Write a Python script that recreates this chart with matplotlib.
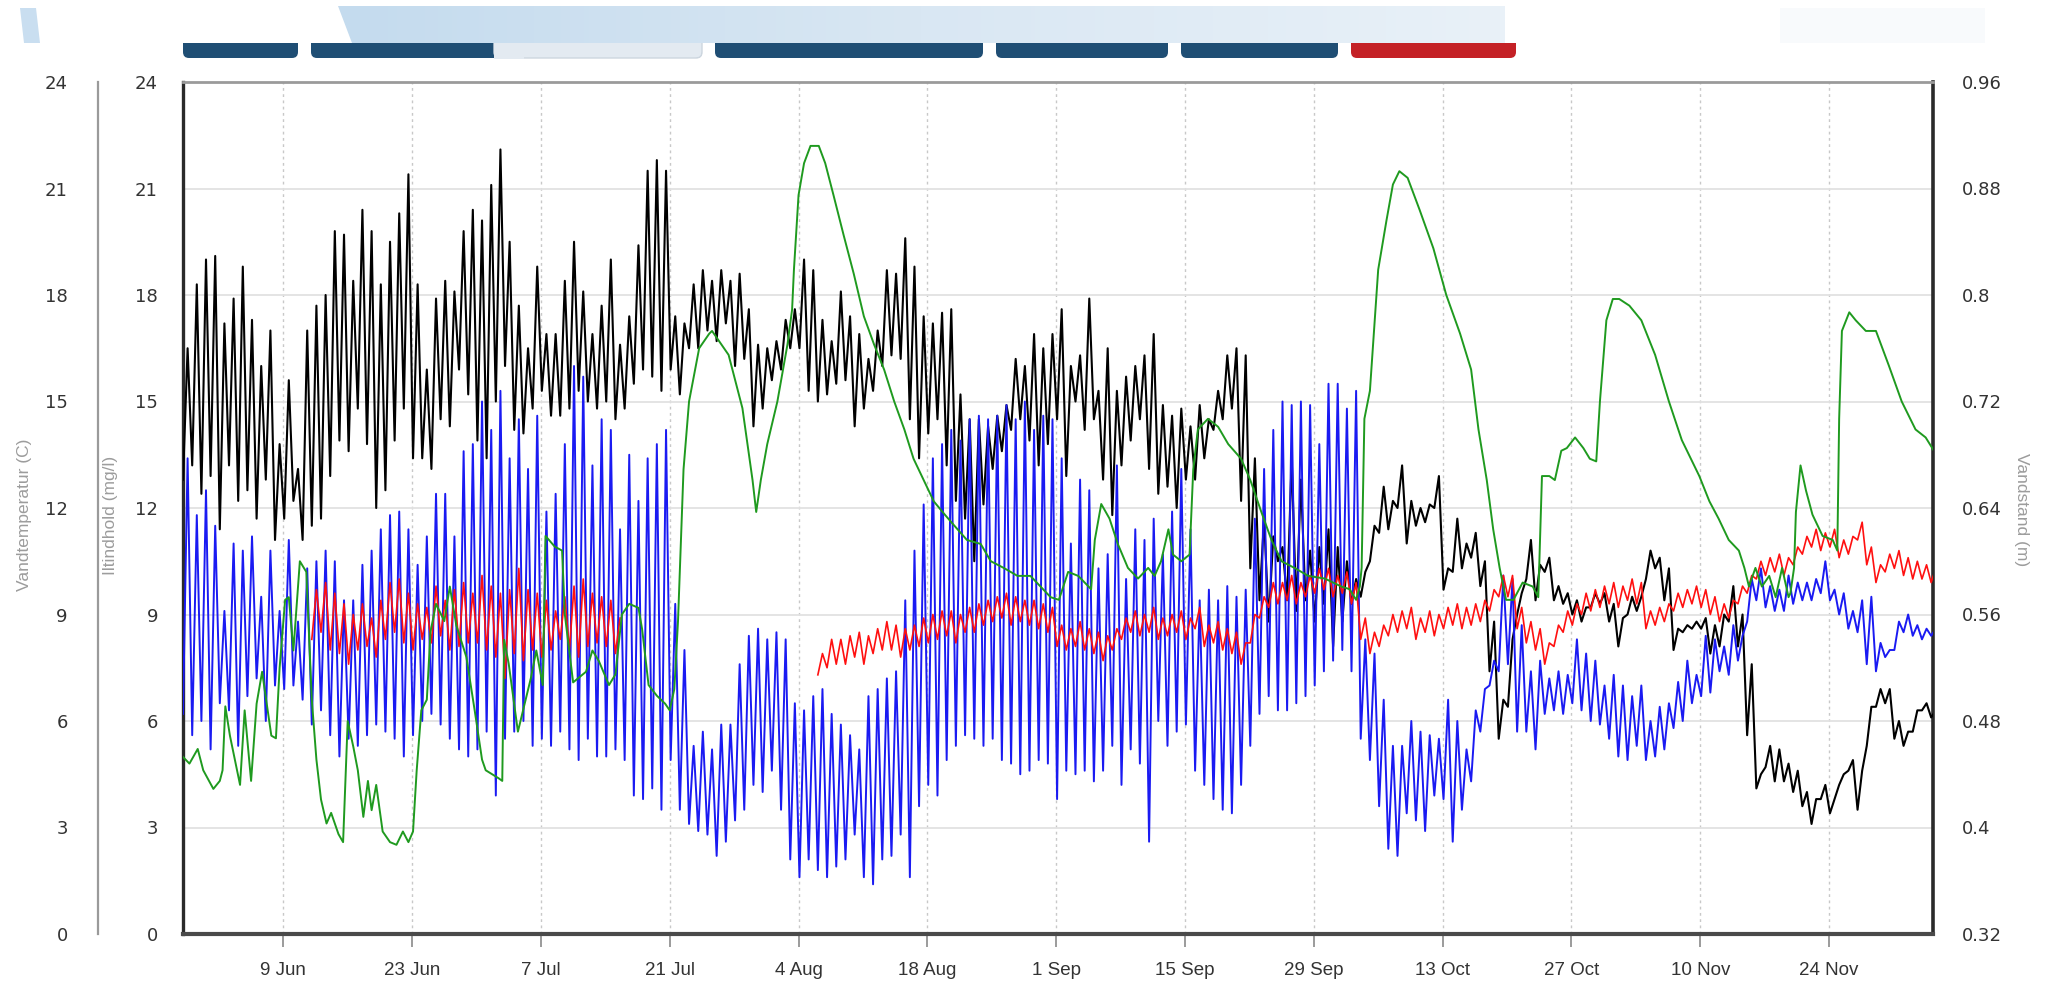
import datetime as dt
import numpy as np
import matplotlib
matplotlib.use("Agg")
import matplotlib.pyplot as plt
import matplotlib.dates as mdates
from matplotlib.patches import Polygon, FancyBboxPatch, Rectangle
from matplotlib.colors import LinearSegmentedColormap

# ---------------- data ----------------
START = dt.datetime(2015, 5, 29)   # day 0 of the daily lists

# Vandtemperatur (C): daily low / high
temp_high = ([16.5, 18.3, 19.0, 19.1, 17.2, 17.9, 18.8, 17.3, 16.0, 17.0,
              13.8, 15.6, 13.1, 17.0, 17.7, 18.0, 19.8, 19.7, 18.4, 20.4,
              19.8, 18.3, 19.5, 20.3, 21.4, 18.3, 15.9, 17.9, 18.4, 18.1,
              19.8, 20.4]
             + [20.1, 21.1, 22.1, 19.5, 17.7, 16.5, 18.8, 16.9, 16.9, 18.4,
                19.5, 18.1, 16.9, 17.7, 19.0, 16.6, 17.4, 19.4, 21.5, 21.8,
                21.5, 17.4, 17.2, 18.3, 18.7, 18.4, 18.7, 18.4, 18.6, 17.6,
                16.6, 16.5]
             + [16.7, 17.3, 17.6, 19.0, 18.7, 17.3, 16.7, 18.1, 17.4, 16.9,
                16.2, 17.0, 18.7, 18.6, 19.6, 18.8, 17.4, 17.2, 17.5, 17.6,
                15.2, 14.5, 14.5, 14.3, 14.6, 14.9, 16.2, 16.0, 16.9, 16.5,
                16.9]
             + [17.6, 16.0, 16.3, 17.9, 15.3, 16.5, 15.3, 15.7, 16.0, 16.3,
                16.9, 14.9, 14.6, 14.8, 14.3, 14.9, 14.5, 15.3, 16.3, 16.5,
                16.3, 13.4, 11.7, 11.2, 10.9, 13.4, 12.8, 10.8, 10.9, 11.4,
                10.9, 10.5]
             + [10.0, 10.2, 11.5, 12.6, 12.2, 13.2, 12.2, 12.0, 12.1, 12.9,
                10.3, 11.7, 11.0, 11.3, 10.5, 8.8, 6.6, 8.3, 9.6, 11.1,
                10.4, 10.6, 9.8, 9.6, 9.4, 9.2, 9.6, 9.6, 9.3, 8.9,
                9.5, 9.5]
             + [10.8, 10.6, 10.3, 8.6, 8.7, 8.8, 8.9, 8.7, 9.0, 9.8,
                9.0, 7.6, 4.5, 5.3, 5.2, 4.8, 4.6, 4.0, 3.8, 4.2,
                3.8, 4.5, 4.9, 4.6, 6.4, 6.9, 6.9, 6.0, 5.7, 6.3,
                6.5, 6.3])
temp_low = ([12.8, 13.2, 12.4, 12.9, 11.4, 13.2, 12.2, 12.5, 11.7, 12.8,
             11.1, 11.7, 12.2, 11.1, 11.5, 11.7, 12.9, 13.9, 13.6, 14.8,
             13.8, 12.0, 12.5, 13.9, 14.8, 13.4, 13.4, 13.1, 14.5, 14.3,
             15.9, 15.2]
            + [13.9, 13.4, 15.0, 16.0, 14.2, 14.1, 14.8, 15.3, 14.6, 14.6,
               14.8, 15.3, 15.0, 14.8, 15.0, 14.5, 14.8, 15.5, 15.9, 15.7,
               15.3, 15.9, 15.2, 16.5, 16.5, 17.0, 16.7, 17.2, 16.0, 16.2,
               14.3, 14.8]
            + [15.6, 15.9, 16.5, 16.5, 15.3, 15.0, 15.2, 15.5, 15.6, 14.3,
               14.8, 15.3, 16.0, 16.3, 16.2, 14.5, 13.4, 14.1, 14.5, 13.2,
               12.2, 11.7, 10.5, 12.1, 13.1, 13.6, 14.2, 14.5, 13.9, 13.2,
               13.8]
            + [14.5, 12.9, 15.0, 14.2, 14.5, 12.8, 11.8, 13.2, 13.9, 14.5,
               13.1, 12.4, 12.6, 12.0, 12.8, 12.8, 13.4, 14.2, 14.5, 14.8,
               12.2, 10.3, 9.4, 8.8, 10.5, 9.4, 9.1, 9.4, 8.8, 9.3,
               8.1, 8.8]
            + [9.3, 9.5, 10.5, 11.3, 11.4, 12.0, 11.0, 11.5, 11.6, 12.0,
               9.7, 10.2, 10.3, 10.6, 9.8, 7.4, 5.5, 6.4, 9.0, 10.0,
               9.4, 10.2, 9.4, 9.3, 9.0, 8.8, 9.2, 9.3, 8.8, 8.1,
               9.0, 9.1]
            + [10.0, 10.3, 9.4, 8.0, 8.5, 8.6, 8.6, 7.9, 8.1, 8.8,
               8.1, 5.6, 4.1, 4.7, 4.3, 4.3, 4.0, 3.6, 3.1, 3.8,
               3.4, 4.2, 4.6, 3.5, 5.3, 6.4, 6.5, 5.5, 5.3, 5.7,
               6.3, 6.1])

# Iltindhold (mg/l): daily low / high
oxy_high = ([13.4, 11.8, 12.5, 11.5, 9.1, 11.0, 10.8, 11.2, 9.5, 10.8,
             9.1, 11.1, 8.8, 10.3, 10.5, 10.8, 10.5, 9.4, 9.4, 10.4,
             10.8, 11.4, 11.8, 11.9, 11.4, 10.4, 11.2, 12.4, 12.4, 11.2,
             13.6, 13.8]
            + [15.0, 14.2, 15.3, 13.4, 14.5, 13.1, 14.6, 11.9, 12.4, 13.8,
               16.0, 15.7, 13.2, 14.5, 14.2, 11.4, 13.5, 12.2, 13.4, 13.8,
               14.2, 9.3, 8.0, 5.3, 5.7, 5.2, 5.9, 5.9, 7.6, 8.4,
               8.6, 8.3]
            + [8.5, 8.3, 6.5, 6.3, 6.7, 6.9, 6.2, 5.9, 5.6, 5.2,
               6.7, 6.9, 7.2, 7.4, 9.4, 10.8, 12.1, 13.4, 13.8, 14.2,
               13.9, 14.5, 14.6, 14.5, 14.6, 14.9, 14.5, 15.0, 14.2, 14.6,
               14.5]
            + [13.4, 11.0, 12.8, 12.5, 10.3, 10.7, 13.2, 10.0, 11.4, 11.1,
               11.7, 10.7, 11.9, 13.1, 11.4, 9.4, 9.7, 9.4, 9.8, 9.5,
               9.7, 11.7, 13.1, 14.2, 15.0, 14.9, 15.0, 14.9, 13.8, 15.5,
               15.5, 14.8]
            + [15.3, 8.3, 7.9, 6.6, 5.3, 5.3, 6.0, 5.7, 5.6, 5.5,
               6.6, 6.0, 5.2, 6.3, 6.9, 7.7, 10.1, 10.0, 8.7, 7.4,
               7.7, 7.2, 7.4, 7.3, 8.3, 7.9, 7.7, 7.0, 7.3, 7.0,
               6.7, 7.0]
            + [6.0, 6.4, 6.5, 7.1, 7.7, 7.3, 8.4, 8.3, 8.1, 8.7,
               8.4, 10.0, 10.3, 9.8, 9.7, 10.1, 9.9, 9.9, 10.0, 10.5,
               9.7, 9.6, 9.1, 9.4, 9.5, 8.2, 8.0, 8.8, 9.0, 8.7,
               8.6, 8.6])
oxy_low = ([6.2, 5.6, 6.0, 5.2, 6.5, 6.3, 5.3, 6.7, 7.2, 6.0,
            7.0, 6.9, 7.0, 6.6, 5.9, 6.3, 5.6, 5.0, 5.5, 5.3,
            5.6, 5.9, 5.7, 5.5, 5.0, 5.6, 6.0, 6.2, 5.9, 5.5,
            5.2, 5.0]
           + [5.2, 5.7, 3.9, 5.5, 5.7, 6.0, 5.3, 5.5, 5.3, 5.7,
              5.2, 4.9, 5.5, 5.0, 5.0, 5.2, 4.9, 3.9, 3.8, 4.1,
              3.5, 4.9, 3.5, 3.1, 2.9, 2.8, 2.2, 2.6, 3.2, 3.5,
              4.2, 4.0]
           + [4.6, 3.5, 2.1, 1.6, 2.1, 1.8, 1.6, 1.9, 2.1, 2.8,
              1.6, 1.4, 2.1, 2.2, 2.8, 1.6, 3.6, 4.2, 3.9, 4.9,
              5.3, 5.6, 5.5, 5.3, 5.5, 4.9, 4.8, 4.5, 4.6, 4.9,
              4.8]
           + [3.8, 4.6, 4.5, 4.6, 4.3, 4.6, 5.3, 4.2, 5.2, 4.8,
              2.6, 6.0, 5.3, 5.7, 5.9, 4.6, 4.2, 3.8, 3.5, 3.4,
              4.2, 5.3, 6.2, 6.7, 6.3, 6.3, 6.5, 6.7, 7.0, 7.4,
              7.7, 8.0]
           + [7.4, 5.5, 4.9, 3.6, 2.4, 2.2, 3.4, 3.2, 2.9, 3.9,
              3.8, 2.6, 3.5, 4.3, 5.7, 7.0, 7.4, 7.6, 5.7, 5.7,
              5.2, 6.2, 6.3, 6.2, 6.5, 6.3, 6.0, 5.9, 5.5, 5.0,
              4.9, 5.3]
           + [4.9, 5.0, 5.2, 5.8, 6.0, 6.5, 6.7, 6.8, 7.4, 7.3,
              7.7, 8.8, 9.4, 9.2, 9.1, 9.1, 9.3, 9.4, 9.4, 9.6,
              9.4, 9.0, 8.6, 8.5, 7.6, 7.4, 7.8, 8.0, 8.5, 8.4,
              8.3, 8.4])

# red series (left axis): daily low / high, None = no data
red_high = ([None] * 14
            + [9.7, 9.9, 9.6, 9.3, 9.0, 9.3, 8.9, 9.4, 9.9, 10.0,
               9.6, 9.3, 9.2, 9.8, 9.4, 9.7, 9.9, 9.6]
            + [10.1, 9.8, 9.6, 9.7, 10.3, 9.7, 9.6, 9.4, 9.1, 9.5,
               9.8, 10.0, 9.6, 9.5, 9.4, 8.9]
            + [None] * 21
            + [7.9, 8.3, 8.3, 8.4, 8.5, 8.4, 8.6, 8.8, 8.7, 8.6,
               8.7, 8.9, 9.0, 9.1, 9.1, 9.0, 9.2, 9.3, 9.4, 9.5,
               9.6, 9.5, 9.4, 9.4, 9.3, 9.2]
            + [8.7, 8.6, 8.8, 8.6, 8.5, 8.4, 8.6, 8.9, 9.1, 9.0,
               9.2, 8.9, 9.0, 9.1, 8.9, 9.2, 8.7, 8.8, 8.6, 8.5,
               8.2, 9.0, 9.5, 9.9, 9.9, 10.1, 9.9, 10.1, 10.3, 10.3,
               10.1, 10.2]
            + [9.9, 8.9, 8.5, 8.7, 9.0, 9.1, 9.2, 8.9, 9.1, 9.0,
               9.2, 9.3, 9.2, 9.3, 9.4, 9.7, 10.1, 10.1, 9.2, 8.8,
               8.6, 8.2, 8.7, 9.1, 9.3, 9.6, 9.7, 9.8, 9.9, 9.8,
               10.0, 9.9]
            + [9.1, 9.2, 9.3, 9.6, 9.7, 9.8, 9.7, 9.5, 9.3, 9.4,
               9.8, 10.1, 10.5, 10.6, 10.7, 10.6, 10.9, 11.2, 11.4, 11.3,
               11.4, 11.1, 11.2, 11.6, 10.9, 10.4, 10.7, 10.8, 10.6, 10.5,
               10.4, 10.3])
red_low = ([None] * 14
           + [8.3, 8.5, 8.0, 7.9, 7.6, 8.0, 8.1, 7.8, 8.3, 8.5,
              8.2, 8.0, 8.3, 8.2, 8.4, 8.0, 8.1, 8.2]
           + [8.2, 8.0, 7.8, 7.2, 7.9, 7.7, 8.0, 7.8, 8.0, 8.3,
              8.0, 7.8, 8.1, 8.2, 8.1, 7.9]
           + [None] * 21
           + [7.3, 7.5, 7.6, 7.6, 7.8, 7.6, 7.9, 8.0, 8.0, 7.8,
              8.0, 8.1, 8.2, 8.3, 8.4, 8.2, 8.5, 8.5, 8.7, 8.8,
              8.9, 8.7, 8.8, 8.7, 8.6, 8.5]
           + [8.1, 8.0, 8.1, 8.0, 7.9, 7.7, 8.0, 8.3, 8.5, 8.4,
              8.5, 8.3, 8.4, 8.5, 8.3, 8.6, 8.1, 8.2, 8.0, 7.9,
              7.6, 8.2, 8.9, 9.2, 9.3, 9.4, 9.3, 9.5, 9.6, 9.7,
              9.5, 9.6]
           + [9.3, 8.3, 7.9, 8.1, 8.4, 8.5, 8.6, 8.3, 8.5, 8.4,
              8.6, 8.7, 8.6, 8.7, 8.8, 9.1, 9.5, 9.5, 8.6, 8.2,
              8.0, 7.6, 8.1, 8.5, 8.7, 9.0, 9.1, 9.2, 9.3, 9.2,
              9.4, 9.3]
           + [8.6, 8.7, 8.8, 9.1, 9.2, 9.3, 9.2, 9.0, 8.8, 8.9,
              9.3, 9.6, 10.0, 10.1, 10.2, 10.1, 10.4, 10.7, 10.9, 10.8,
              10.9, 10.6, 10.7, 11.1, 10.4, 9.9, 10.2, 10.3, 10.1, 10.0,
              10.0, 9.9])

# Vandstand (m): (days after START, level)
green_day = [0.1, 0.8, 1.7, 2.3, 3.4, 4.1, 4.4, 4.7, 5.2, 6.3, 6.8, 7.5, 8.1, 8.7,
             9.7, 10.2, 10.6, 11.2, 11.6, 12.1, 12.8, 13.5, 14.1, 14.6, 15.1,
             15.7, 16.2, 17.0, 17.5, 18.0, 18.6, 19.1, 19.7, 20.2, 20.6, 21.1,
             21.8, 22.6, 23.3, 24.0, 24.6, 25.1, 25.5, 26.0, 26.6, 27.0, 27.6,
             28.5, 29.1, 29.8, 30.9, 31.8,
             32.6, 33.0, 34.4, 34.8, 35.0, 35.5, 36.5, 37.9, 38.5, 39.2, 39.5,
             40.5, 41.3, 41.6, 42.5, 43.9, 44.6, 45.3, 46.4, 47.1, 47.8, 48.6,
             49.6, 50.0, 50.7, 51.6, 52.5, 53.0, 53.5, 53.9, 54.5, 55.1, 56.2,
             57.3, 57.6, 59.4, 60.9, 62.0, 62.4, 62.9, 63.6,
             64.7, 65.8, 66.3, 66.5, 67.0, 67.6, 68.3, 69.2, 69.9, 70.8, 71.9,
             73.0, 74.1, 75.2, 76.3, 77.4, 78.5, 79.5, 80.6, 81.7, 82.9, 83.9,
             85.3, 86.8, 87.9, 89.3, 90.8, 92.2, 93.3, 94.4, 95.3,
             96.3, 97.4, 98.8, 99.2, 99.9, 100.8, 101.7, 102.8, 103.9, 105.0,
             105.7, 106.4, 107.2, 107.7, 108.6, 109.5, 109.9, 110.4, 111.5,
             112.6, 113.7, 115.1, 116.1, 117.3, 118.4, 119.5, 120.9, 122.4,
             124.2, 126.0, 126.9,
             127.6, 128.0, 128.2, 128.5, 129.1, 130.0, 130.9, 131.6, 132.3,
             133.2, 134.5, 136.0, 137.4, 138.9, 140.1, 140.9, 141.8, 142.5,
             143.2, 143.9, 144.7, 145.7, 146.8, 147.4, 147.8, 148.6, 149.2,
             149.9, 150.5, 151.4, 152.3, 153.0, 153.7, 154.1, 154.8, 155.5,
             156.2, 157.3, 158.6,
             160.1, 161.6, 163.0, 164.9, 166.0, 167.0, 168.1, 169.2, 169.8,
             170.3, 171.0, 171.7, 172.5, 173.2, 173.9, 174.6, 174.8, 175.2,
             175.4, 175.9, 176.5, 177.2, 178.3, 179.4, 179.9, 180.1, 180.4,
             181.2, 181.9, 183.0, 184.1, 185.5, 186.9, 188.4, 189.5, 190.4]
green_level = [0.453, 0.448, 0.459, 0.443, 0.429, 0.435, 0.443, 0.491, 0.469, 0.432,
               0.488, 0.435, 0.493, 0.517, 0.469, 0.467, 0.520, 0.571, 0.573, 0.533,
               0.600, 0.592, 0.496, 0.451, 0.421, 0.403, 0.411, 0.395, 0.389, 0.480,
               0.461, 0.443, 0.408, 0.435, 0.413, 0.432, 0.397, 0.389, 0.387, 0.397,
               0.389, 0.397, 0.443, 0.488, 0.496, 0.547, 0.568, 0.555, 0.581, 0.552,
               0.528, 0.488,
               0.451, 0.443, 0.437, 0.435, 0.541, 0.523, 0.472, 0.512, 0.533, 0.507,
               0.619, 0.611, 0.608, 0.560, 0.509, 0.517, 0.533, 0.525, 0.507, 0.515,
               0.560, 0.568, 0.565, 0.549, 0.507, 0.499, 0.493, 0.488, 0.504, 0.555,
               0.669, 0.720, 0.760, 0.771, 0.773, 0.755, 0.715, 0.661, 0.637, 0.661,
               0.688,
               0.720, 0.763, 0.789, 0.819, 0.875, 0.899, 0.912, 0.912, 0.899, 0.875,
               0.845, 0.816, 0.784, 0.763, 0.744, 0.720, 0.699, 0.677, 0.661, 0.645,
               0.635, 0.627, 0.616, 0.613, 0.600, 0.595, 0.589, 0.589, 0.581, 0.573,
               0.571,
               0.592, 0.589, 0.579, 0.616, 0.643, 0.632, 0.613, 0.595, 0.587, 0.595,
               0.589, 0.600, 0.624, 0.605, 0.600, 0.605, 0.669, 0.699, 0.707, 0.701,
               0.688, 0.677, 0.661, 0.637, 0.616, 0.600, 0.595, 0.589, 0.587, 0.581,
               0.579,
               0.571, 0.581, 0.595, 0.707, 0.728, 0.819, 0.856, 0.883, 0.893, 0.888,
               0.864, 0.835, 0.800, 0.771, 0.744, 0.699, 0.661, 0.624, 0.595, 0.571,
               0.571, 0.584, 0.581, 0.573, 0.664, 0.664, 0.661, 0.683, 0.685, 0.693,
               0.685, 0.677, 0.675, 0.720, 0.781, 0.797, 0.797, 0.792, 0.781,
               0.755, 0.720, 0.691, 0.664, 0.645, 0.632, 0.616, 0.608, 0.595, 0.581,
               0.595, 0.581, 0.589, 0.573, 0.595, 0.573, 0.576, 0.595, 0.637, 0.672,
               0.653, 0.635, 0.619, 0.616, 0.608, 0.707, 0.773, 0.787, 0.781, 0.773,
               0.773, 0.747, 0.720, 0.699, 0.693, 0.683]

tick_dates = ["2015-06-09", "2015-06-23", "2015-07-07", "2015-07-21", "2015-08-04",
              "2015-08-18", "2015-09-01", "2015-09-15", "2015-09-29", "2015-10-13",
              "2015-10-27", "2015-11-10", "2015-11-24"]
tick_labels = ["9 Jun", "23 Jun", "7 Jul", "21 Jul", "4 Aug", "18 Aug", "1 Sep",
               "15 Sep", "29 Sep", "13 Oct", "27 Oct", "10 Nov", "24 Nov"]
left_ticks = [0, 3, 6, 9, 12, 15, 18, 21, 24]
right_ticks = [0.32, 0.40, 0.48, 0.56, 0.64, 0.72, 0.80, 0.88, 0.96]
right_labels = ["0.32", "0.4", "0.48", "0.56", "0.64", "0.72", "0.8", "0.88", "0.96"]

# ---------------- drawing ----------------
W_PX, H_PX = 2049, 990
fig = plt.figure(figsize=(W_PX / 100, H_PX / 100), dpi=100)
fig.patch.set_facecolor("white")

base = mdates.date2num(START)


def zigzag(lows, highs, t_low=0.1, t_high=0.6):
    n = min(len(lows), len(highs))
    xs, ys = [], []
    for i in range(n):
        lo, hi = lows[i], highs[i]
        xs += [base + i + t_low, base + i + t_high]
        ys += [np.nan if lo is None else lo, np.nan if hi is None else hi]
    return np.array(xs), np.array(ys, dtype=float)


# --- background banner (web page fragment above the chart) ---
bg = fig.add_axes([0, 0, 1, 1])
bg.set_zorder(-5)
bg.set_xlim(0, W_PX)
bg.set_ylim(H_PX, 0)
bg.axis("off")

DARK = "#1f4e74"
buttons = [(183, 298, DARK), (311, 702, DARK), (715, 983, DARK),
           (996, 1168, DARK), (1181, 1338, DARK), (1351, 1516, "#c42126")]
for x0, x1, c in buttons:
    bg.add_patch(FancyBboxPatch((x0 + 6, 30), x1 - x0 - 12, 22,
                                boxstyle="round,pad=6", fc=c, ec="none", zorder=1))
bg.add_patch(FancyBboxPatch((500, 30), 196, 22, boxstyle="round,pad=6",
                            fc="#e3eaf1", ec="#cdd6df", lw=1, zorder=1.5))
bg.add_patch(Rectangle((494, 24), 30, 34.5, fc="#e3eaf1", ec="none", zorder=1.6))
bg.add_patch(Rectangle((0, 0), W_PX, 43, fc="white", ec="none", zorder=2))
grad = np.linspace(0, 1, 256)[None, :]
band = Polygon([(338, 6), (1505, 6), (1505, 43), (352, 43)], closed=True,
               fc="none", ec="none", zorder=3)
bg.add_patch(band)
cmap = LinearSegmentedColormap.from_list("band", ["#c4dbee", "#d9e7f3", "#e9f1f8"])
im = bg.imshow(grad, cmap=cmap, extent=(338, 1505, 43, 6), aspect="auto", zorder=3)
im.set_clip_path(band)
bg.add_patch(Polygon([(20, 8), (36, 8), (40, 43), (24, 43)], closed=True,
                     fc="#c9def0", ec="none", zorder=3))
bg.add_patch(Rectangle((1780, 8), 205, 35, fc="#f8fafc", ec="none", zorder=3))

# --- main axes ---
L, R, T, B = 183, 1933, 82, 934
rect = [L / W_PX, 1 - B / H_PX, (R - L) / W_PX, (B - T) / H_PX]
ax = fig.add_axes(rect)
ax.set_facecolor("white")

xb, yb = zigzag(temp_low, temp_high)
ax.plot(xb, yb, color="#000000", lw=1.5, zorder=3)
xo, yo = zigzag(oxy_low, oxy_high)
ax.plot(xo, yo, color="#1a1af2", lw=1.4, zorder=4)
xr, yr = zigzag(red_low, red_high)
ax.plot(xr, yr, color="#ff1010", lw=1.2, zorder=5)

ax.set_xlim(base + 0.1, base + 190.3)
ax.set_ylim(0, 24)

tick_pos = [mdates.date2num(dt.datetime.strptime(d, "%Y-%m-%d")) for d in tick_dates]
ax.set_xticks(tick_pos)
ax.set_xticklabels(tick_labels, fontsize=13.5, color="#333333",
                   fontfamily=["Liberation Sans", "DejaVu Sans"])
ax.tick_params(axis="x", length=9.5, width=1.2, color="#8a8a8a", pad=11)
ax.set_yticks(left_ticks)
ax.set_yticklabels([str(v) for v in left_ticks], fontsize=13, color="#333333",
                   fontfamily=["DejaVu Sans"])
ax.tick_params(axis="y", length=0, pad=18)

ax.xaxis.grid(True, color="#c8c8c8", ls=(0, (2, 2.5)), lw=1.0)
ax.yaxis.grid(True, color="#e2e2e2", lw=1.3)
ax.set_axisbelow(True)

ax.spines["left"].set_color("#2a2a2a")
ax.spines["left"].set_linewidth(2.4)
ax.spines["right"].set_color("#2a2a2a")
ax.spines["right"].set_linewidth(2.6)
ax.spines["bottom"].set_color("#4a4a4a")
ax.spines["bottom"].set_linewidth(3.0)
ax.spines["top"].set_color("#9a9a9a")
ax.spines["top"].set_linewidth(2.0)

# right axis: Vandstand
ax_r = ax.twinx()
ax_r.plot([base + d for d in green_day], green_level, color="#1f9a1f", lw=1.4)
ax_r.set_ylim(0.32, 0.96)
ax_r.set_yticks(right_ticks)
ax_r.set_yticklabels(right_labels, fontsize=13, color="#333333",
                     fontfamily=["DejaVu Sans"])
ax_r.tick_params(axis="y", length=0, pad=21)
for s in ax_r.spines.values():
    s.set_visible(False)

# outer left axis: Vandtemperatur
ax_o = ax.twinx()
ax_o.set_ylim(0, 24)
ax_o.yaxis.set_ticks_position("left")
ax_o.yaxis.set_label_position("left")
for k, s in ax_o.spines.items():
    s.set_visible(k == "left")
ax_o.spines["left"].set_position(("outward", 61))
ax_o.spines["left"].set_color("#9a9a9a")
ax_o.spines["left"].set_linewidth(1.6)
ax_o.set_yticks(left_ticks)
ax_o.set_yticklabels([str(v) for v in left_ticks], fontsize=13, color="#333333",
                     fontfamily=["DejaVu Sans"])
ax_o.tick_params(axis="y", length=0, pad=22)

title_font = dict(fontsize=12.5, color="#9c9c9c", fontfamily=["Liberation Sans", "DejaVu Sans"],
                  ha="center", va="center")
fig.text(25 / W_PX, 1 - 515 / H_PX, "Vandtemperatur (C)", rotation=90, **title_font)
fig.text(110 / W_PX, 1 - 515 / H_PX, "Iltindhold (mg/l)", rotation=90, **title_font)
fig.text(2022 / W_PX, 1 - 510 / H_PX, "Vandstand (m)", rotation=270, **title_font)

fig.savefig("out.png", dpi=100, facecolor="white")
